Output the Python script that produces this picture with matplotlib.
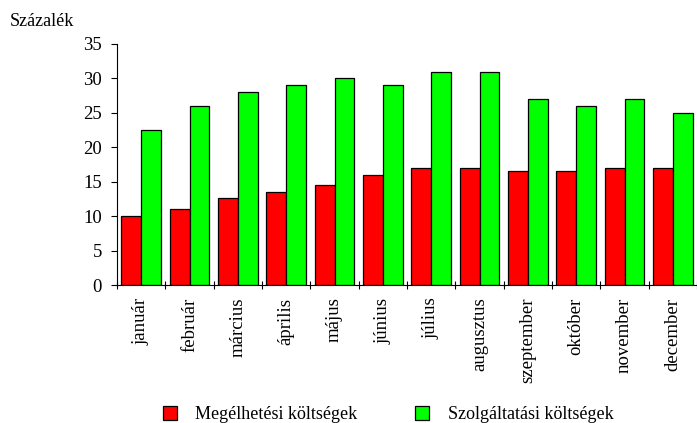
import numpy as np
import matplotlib.pyplot as plt

plt.rcParams['font.family'] = ['Liberation Serif', 'DejaVu Serif']

months = ["január", "február", "március", "április", "május", "június",
          "július", "augusztus", "szeptember", "október", "november", "december"]
megelhetesi = [10, 11, 12.6, 13.5, 14.5, 16, 17, 17, 16.5, 16.5, 17, 17]
szolgaltatasi = [22.5, 26, 28, 29, 30, 29, 31, 31, 27, 26, 27, 25]
series_names = ["Megélhetési költségek", "Szolgáltatási költségek"]

fig = plt.figure(figsize=(6.97, 4.23), dpi=100)
ax = fig.add_axes([0.168, 0.326, 0.832, 0.570])

x = np.arange(len(months))
w = 0.41
ax.bar(x - w / 2, megelhetesi, w, color="#ff0000", edgecolor="black", linewidth=0.9,
       label=series_names[0])
ax.bar(x + w / 2, szolgaltatasi, w, color="#00ff00", edgecolor="black", linewidth=0.9,
       label=series_names[1])

ax.set_ylim(0, 35)
ax.set_yticks(range(0, 36, 5))
ax.set_xlim(-0.5, 11.34)
ax.set_xticks(x)
ax.set_xticklabels(months, rotation=90, fontsize=13.5)
ax.set_xticks(np.arange(-0.5, 12, 1), minor=True)
ax.tick_params(axis="x", which="major", length=0, pad=9)
ax.tick_params(axis="x", which="minor", direction="inout", length=6, width=0.8)
ax.tick_params(axis="y", direction="out", length=4, width=0.8, labelsize=13.5, pad=7)
for s in ["top", "right"]:
    ax.spines[s].set_visible(False)
for s in ["left", "bottom"]:
    ax.spines[s].set_linewidth(0.8)

fig.text(0.014, 0.950, "Százalék", fontsize=13, ha="left", va="center")

fig.legend(loc="center", bbox_to_anchor=(0.557, 0.019), ncol=2, frameon=False,
           fontsize=13, handlelength=0.78, handleheight=0.78, columnspacing=3.2,
           handletextpad=1.0)

fig.savefig("out.png", dpi=100)
